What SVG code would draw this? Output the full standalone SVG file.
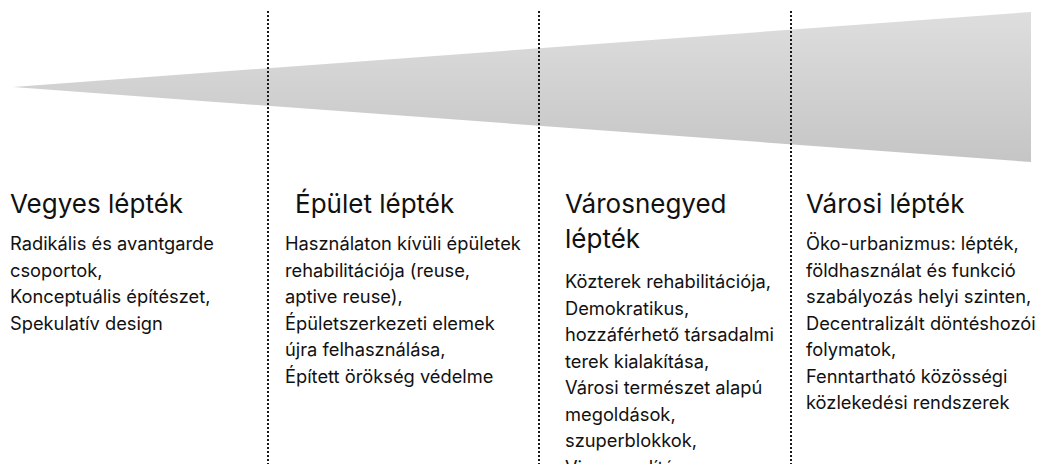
<svg xmlns="http://www.w3.org/2000/svg" width="1044" height="464" viewBox="0 0 1044 464">
  <defs>
    <linearGradient id="wedgeGrad" gradientUnits="userSpaceOnUse" x1="0" y1="12" x2="0" y2="162">
      <stop offset="0" stop-color="#dedede"/>
      <stop offset="1" stop-color="#c5c5c5"/>
    </linearGradient>
  </defs>
  <style>
    text { font-family: "Inter", "Noto Sans", "DejaVu Sans", sans-serif; fill: #111111; }
    .h { font-size: 26px; }
    .b { font-size: 18.3px; }
    .div { stroke: #1a1a1a; stroke-width: 2; stroke-dasharray: 2 2; fill: none; }
  </style>
  <rect width="1044" height="464" fill="#ffffff"/>
  <g id="wedge">
    <polygon points="13,87 1031,12 1031,162" fill="url(#wedgeGrad)"/>
  </g>
  <g id="connectors">
    <line class="div" x1="268" y1="11" x2="268" y2="464"/>
    <line class="div" x1="539" y1="11" x2="539" y2="464"/>
    <line class="div" x1="791" y1="11" x2="791" y2="464"/>
  </g>
  <g id="col-vegyes">
    <text class="h" x="10" y="213">Vegyes lépték</text>
    <text class="b" x="10" y="250">
      <tspan x="10" dy="0">Radikális és avantgarde</tspan>
      <tspan x="10" dy="26.5">csoportok,</tspan>
      <tspan x="10" dy="26.5">Konceptuális építészet,</tspan>
      <tspan x="10" dy="26.5">Spekulatív design</tspan>
    </text>
  </g>
  <g id="col-epulet">
    <text class="h" x="295" y="213">Épület lépték</text>
    <text class="b" x="285" y="250">
      <tspan x="285" dy="0">Használaton kívüli épületek</tspan>
      <tspan x="285" dy="26.5">rehabilitációja (reuse,</tspan>
      <tspan x="285" dy="26.5">aptive reuse),</tspan>
      <tspan x="285" dy="26.5">Épületszerkezeti elemek</tspan>
      <tspan x="285" dy="26.5">újra felhasználása,</tspan>
      <tspan x="285" dy="26.5">Épített örökség védelme</tspan>
    </text>
  </g>
  <g id="col-varosnegyed">
    <text class="h" x="565" y="213">
      <tspan x="565" dy="0">Városnegyed</tspan>
      <tspan x="565" dy="35">lépték</tspan>
    </text>
    <text class="b" x="565" y="288">
      <tspan x="565" dy="0">Közterek rehabilitációja,</tspan>
      <tspan x="565" dy="26.5">Demokratikus,</tspan>
      <tspan x="565" dy="26.5">hozzáférhető társadalmi</tspan>
      <tspan x="565" dy="26.5">terek kialakítása,</tspan>
      <tspan x="565" dy="26.5">Városi természet alapú</tspan>
      <tspan x="565" dy="26.5">megoldások,</tspan>
      <tspan x="565" dy="26.5">szuperblokkok,</tspan>
      <tspan x="565" dy="26.5">Visszavadítás</tspan>
    </text>
  </g>
  <g id="col-varosi">
    <text class="h" x="806" y="213">Városi lépték</text>
    <text class="b" x="806" y="250">
      <tspan x="806" dy="0">Öko-urbanizmus: lépték,</tspan>
      <tspan x="806" dy="26.5">földhasználat és funkció</tspan>
      <tspan x="806" dy="26.5">szabályozás helyi szinten,</tspan>
      <tspan x="806" dy="26.5">Decentralizált döntéshozói</tspan>
      <tspan x="806" dy="26.5">folymatok,</tspan>
      <tspan x="806" dy="26.5">Fenntartható közösségi</tspan>
      <tspan x="806" dy="26.5">közlekedési rendszerek</tspan>
    </text>
  </g>
</svg>
